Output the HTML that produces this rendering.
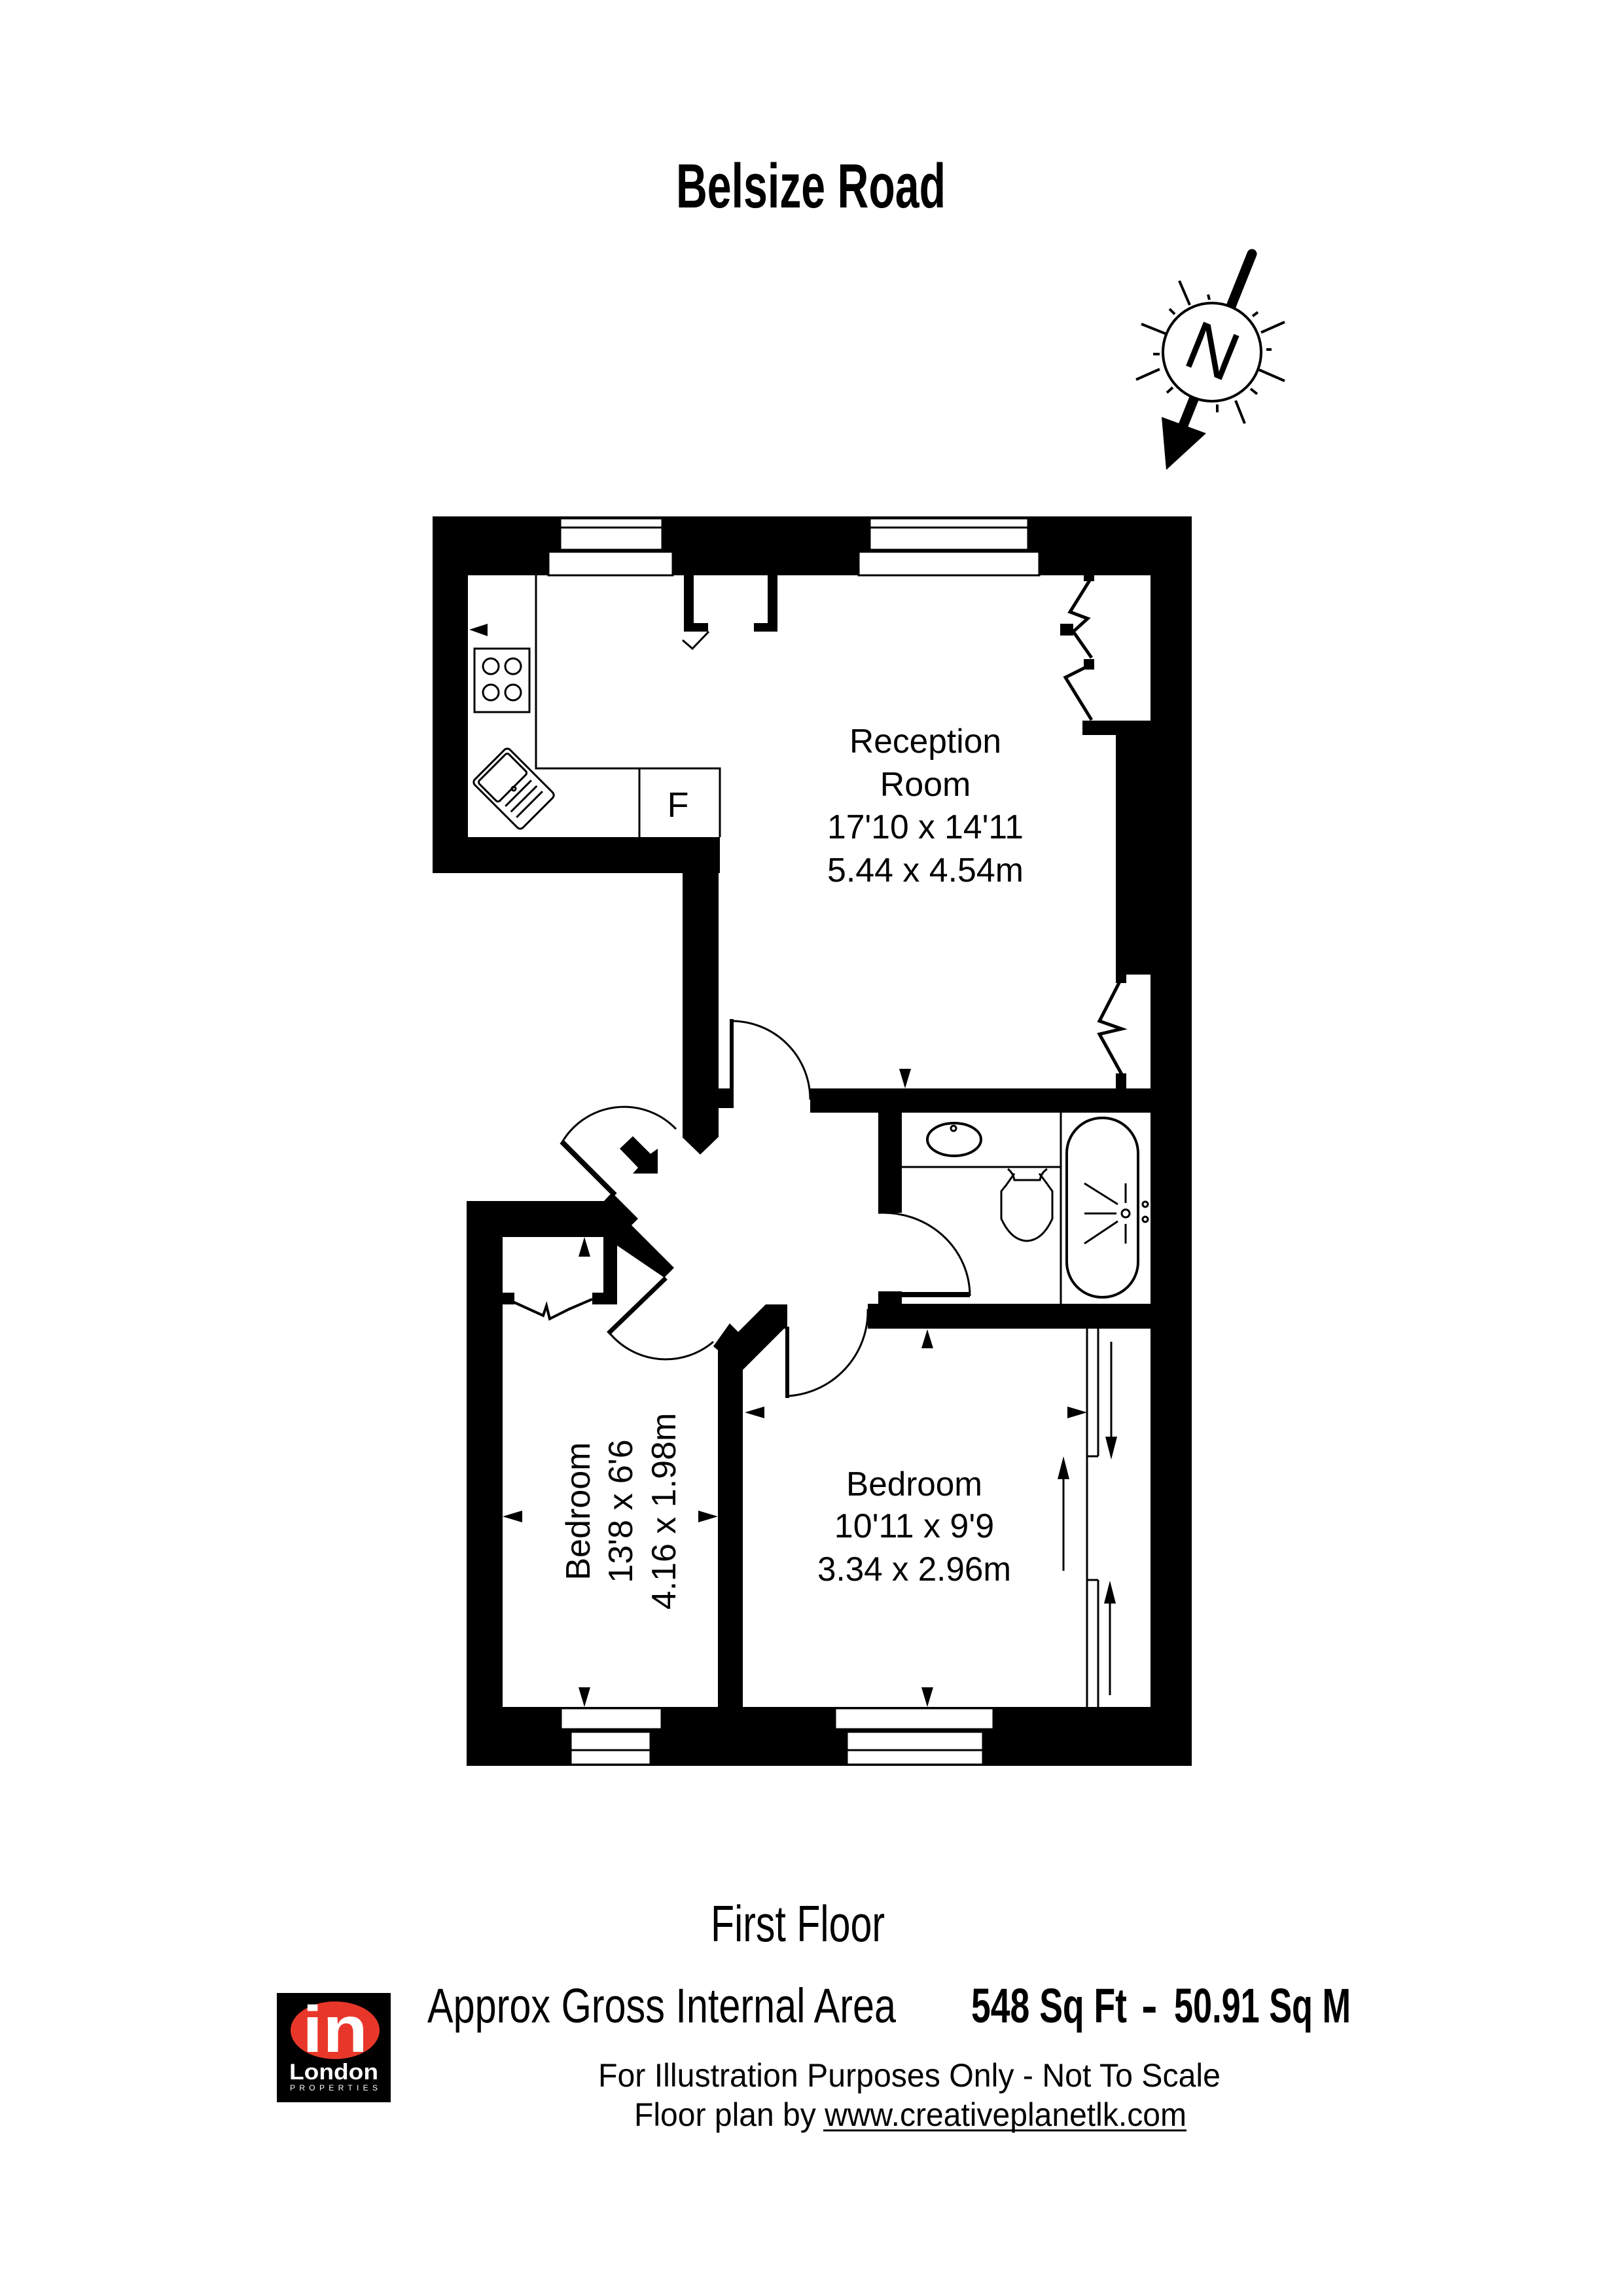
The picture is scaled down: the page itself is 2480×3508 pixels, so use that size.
<!DOCTYPE html>
<html><head><meta charset="utf-8"><style>
html,body{margin:0;padding:0;background:#fff;}
svg{display:block;}
text{font-family:"Liberation Sans",sans-serif;}
</style></head><body>
<svg width="2480" height="3508" viewBox="0 0 2480 3508" xmlns="http://www.w3.org/2000/svg">
<rect width="2480" height="3508" fill="#fff"/>

<!-- Title -->
<text x="1033" y="317" font-size="96" font-weight="bold" textLength="412" lengthAdjust="spacingAndGlyphs">Belsize Road</text>

<!-- Compass -->
<g stroke="#000" fill="none">
<g stroke-width="4">
<line x1="1802" y1="429" x2="1818" y2="466"/>
<line x1="1846" y1="450" x2="1848" y2="458"/>
<line x1="1787" y1="472" x2="1795" y2="480"/>
<line x1="1744" y1="495" x2="1784" y2="511"/>
<line x1="1762" y1="541" x2="1772" y2="541"/>
<line x1="1736" y1="580" x2="1772" y2="564"/>
<line x1="1783" y1="600" x2="1792" y2="592"/>
<line x1="1860" y1="618" x2="1860" y2="630"/>
<line x1="1888" y1="612" x2="1902" y2="647"/>
<line x1="1911" y1="594" x2="1921" y2="602"/>
<line x1="1924" y1="565" x2="1963" y2="582"/>
<line x1="1935" y1="534" x2="1943" y2="534"/>
<line x1="1927" y1="508" x2="1963" y2="492"/>
<line x1="1914" y1="483" x2="1922" y2="477"/>
</g>
</g>
<line x1="1913" y1="388" x2="1804" y2="660" stroke="#000" stroke-width="15" stroke-linecap="round"/>
<circle cx="1852" cy="538" r="75" stroke-width="4" stroke="#000" fill="#fff"/>
<polygon points="1775,637 1843,662 1782,718" fill="#000"/>
<text x="1852" y="572" font-size="105" font-family="Liberation Serif,serif" text-anchor="middle" transform="rotate(22 1852 538)">N</text>

<!-- WALLS -->
<g fill="#000">
<rect x="661" y="789" width="1160" height="90"/>
<rect x="661" y="789" width="54" height="545"/>
<rect x="661" y="1279" width="439" height="55"/>
<polygon points="1043,1279 1098,1279 1098,1737 1070,1764 1043,1738"/>
<rect x="1098" y="1663" width="20" height="30"/>
<rect x="1758" y="789" width="63" height="1909"/>
<rect x="1705" y="1123" width="60" height="366"/>
<rect x="1654" y="1101" width="104" height="22"/>
<rect x="1238" y="1663" width="527" height="37"/>
<rect x="1342" y="1698" width="36" height="155"/>
<rect x="1326" y="1992" width="439" height="38"/>
<rect x="1342" y="1973" width="36" height="20"/>
<polygon points="713,1835 923,1835 935,1822 975,1862 965,1872 1030,1937 1015,1952 943,1903 943,1993 905,1993 905,1975 922,1975 922,1890 768,1890 768,2698 713,2698"/>
<polygon points="1097,2063 1090,2057 1115,2022 1128,2035 1170,1993 1203,1993 1203,2030 1198,2030 1135,2093 1135,2608 1097,2608"/>
<rect x="713" y="2608" width="1108" height="90"/>
<rect x="1045" y="879" width="15" height="86"/>
<rect x="1045" y="952" width="37" height="13"/>
<rect x="1173" y="879" width="15" height="86"/>
<rect x="1152" y="952" width="36" height="13"/>
<polygon points="947,1755 967,1736 994,1763 1005,1755 1005,1793 967,1793 975,1784"/>
</g>

<!-- Windows -->
<g fill="#fff" stroke="#000" stroke-width="3">
<rect x="838" y="843" width="190" height="36"/>
<rect x="856" y="792" width="156" height="48"/>
<line x1="856" y1="806" x2="1012" y2="806"/>
<rect x="1312" y="843" width="276" height="36"/>
<rect x="1329" y="792" width="242" height="48"/>
<line x1="1329" y1="806" x2="1571" y2="806"/>
<rect x="857" y="2610" width="154" height="32"/>
<rect x="872" y="2646" width="122" height="50"/>
<line x1="872" y1="2674" x2="994" y2="2674"/>
<rect x="1276" y="2610" width="242" height="32"/>
<rect x="1294" y="2646" width="208" height="50"/>
<line x1="1294" y1="2674" x2="1502" y2="2674"/>
</g>

<!-- Kitchen -->
<g fill="none" stroke="#000" stroke-width="3">
<polyline points="819,879 819,1174 1100,1174 1100,1279"/>
<line x1="977" y1="1174" x2="977" y2="1279"/>
<rect x="725" y="991" width="84" height="97" stroke-width="3"/>
<circle cx="750" cy="1018" r="12"/><circle cx="784" cy="1018" r="12"/>
<circle cx="750" cy="1058" r="12"/><circle cx="784" cy="1058" r="12"/>
<g transform="translate(785,1205) rotate(45)">
<rect x="-52" y="-38" width="104" height="76" rx="6"/>
<rect x="-46" y="-32" width="44" height="64" rx="4"/>
<line x1="10" y1="-28" x2="10" y2="28"/><line x1="22" y1="-28" x2="22" y2="28"/><line x1="34" y1="-28" x2="34" y2="28"/>
<circle cx="0" cy="0" r="3"/>
</g>
<polyline points="1083,965 1058,991 1043,978"/>
</g>
<polygon points="717,962 745,953 745,972" fill="#000"/>
<text x="1036" y="1248" font-size="54" text-anchor="middle">F</text>

<!-- Reception bifolds -->
<g fill="none" stroke="#000" stroke-width="5">
<polyline points="1668,882 1635,935 1662,945 1640,965 1668,1005"/>
<polyline points="1668,1015 1628,1035 1668,1100"/>
<polyline points="1716,1490 1680,1560 1714,1572 1680,1580 1716,1645"/>
</g>
<g fill="#000">
<rect x="1656" y="878" width="16" height="10"/>
<rect x="1620" y="953" width="20" height="18"/>
<rect x="1656" y="1007" width="16" height="16"/>
<rect x="1705" y="1488" width="16" height="14"/>
<rect x="1705" y="1640" width="16" height="23"/>
</g>

<!-- Doors -->
<g fill="none" stroke="#000" stroke-width="3">
<path d="M1118,1560 A120,120 0 0 1 1238,1680"/>
<path d="M859,1745 A110,110 0 0 1 1033,1725"/>
<path d="M930,2035 A112,112 0 0 0 1090,2050"/>
<path d="M1203,2133 A130,130 0 0 0 1326,2000"/>
<path d="M1342,1853 A133,127 0 0 1 1482,1980"/>
<line x1="1360" y1="1978" x2="1482" y2="1978" stroke-width="8"/>
</g>
<g stroke="#000" stroke-linecap="square">
<line x1="1118" y1="1560" x2="1118" y2="1690" stroke-width="6"/>
<line x1="861" y1="1747" x2="937" y2="1823" stroke-width="8"/>
<line x1="1015" y1="1955" x2="932" y2="2035" stroke-width="7"/>
<line x1="1203" y1="2030" x2="1203" y2="2133" stroke-width="6"/>
</g>

<!-- Bedroom 1 closet -->
<g fill="none" stroke="#000" stroke-width="4">
<polyline points="775,1985 808,2000 830,2010 835,1995 840,2015 870,2000 905,1985"/>
</g>
<rect x="768" y="1975" width="18" height="18" fill="#000"/>

<!-- Bathroom -->
<g fill="none" stroke="#000" stroke-width="3">
<line x1="1378" y1="1783" x2="1620" y2="1783"/>
<line x1="1621" y1="1698" x2="1621" y2="1992"/>
<ellipse cx="1458" cy="1741" rx="41" ry="25" stroke-width="4"/>
<circle cx="1457" cy="1724" r="4"/>
<rect x="1630" y="1708" width="109" height="274" rx="54" stroke-width="4"/>
<path d="M1540,1786 Q1548,1792 1550,1803 L1589,1803 Q1591,1792 1600,1786" />
<path d="M1550,1793 L1538,1810 L1530,1820 L1530,1862 Q1545,1895 1569,1896 Q1593,1895 1608,1862 L1608,1820 L1598,1806 L1588,1793"/>
<line x1="1657" y1="1808" x2="1708" y2="1840"/>
<line x1="1657" y1="1854" x2="1706" y2="1854"/>
<line x1="1657" y1="1900" x2="1708" y2="1866"/>
<line x1="1720" y1="1808" x2="1720" y2="1838"/>
<line x1="1720" y1="1870" x2="1720" y2="1900"/>
<circle cx="1720" cy="1854" r="6"/>
<circle cx="1750" cy="1840" r="4"/><circle cx="1750" cy="1863" r="4"/>
</g>

<!-- Bedroom 2 wardrobe -->
<g fill="none" stroke="#000" stroke-width="3">
<line x1="1661" y1="2030" x2="1661" y2="2608"/>
<line x1="1678" y1="2030" x2="1678" y2="2225"/>
<polyline points="1678,2225 1661,2225"/>
<line x1="1678" y1="2414" x2="1678" y2="2608"/>
<polyline points="1661,2414 1678,2414"/>
<line x1="1698" y1="2050" x2="1698" y2="2200"/>
<line x1="1625" y1="2255" x2="1625" y2="2400"/>
<line x1="1696" y1="2445" x2="1696" y2="2590"/>
</g>
<g fill="#000">
<polygon points="1689,2195 1707,2195 1698,2230"/>
<polygon points="1616,2260 1634,2260 1625,2225"/>
<polygon points="1687,2450 1705,2450 1696,2415"/>
</g>

<!-- dimension arrows (tip at wall) -->
<g fill="#000">
<polygon points="1374,1633 1392,1633 1383,1663"/>
<polygon points="1408,2060 1426,2060 1417,2031"/>
<polygon points="1408,2578 1426,2578 1417,2608"/>
<polygon points="1138,2158 1168,2149 1168,2167"/>
<polygon points="1661,2158 1631,2149 1631,2167"/>
<polygon points="768,2317 798,2308 798,2326"/>
<polygon points="1097,2317 1067,2308 1067,2326"/>
<polygon points="884,2578 902,2578 893,2608"/>
<polygon points="884,1920 902,1920 893,1890"/>
</g>

<!-- Room labels -->
<g font-size="52" text-anchor="middle">
<text x="1414" y="1150" textLength="232" lengthAdjust="spacingAndGlyphs">Reception</text>
<text x="1414" y="1216">Room</text>
<text x="1414" y="1281" textLength="300" lengthAdjust="spacingAndGlyphs">17'10 x 14'11</text>
<text x="1414" y="1347" textLength="300" lengthAdjust="spacingAndGlyphs">5.44 x 4.54m</text>
<text x="1397" y="2285" textLength="208" lengthAdjust="spacingAndGlyphs">Bedroom</text>
<text x="1397" y="2349">10'11 x 9'9</text>
<text x="1397" y="2415" textLength="296" lengthAdjust="spacingAndGlyphs">3.34 x 2.96m</text>
<g transform="rotate(-90 901 2309)"><text x="901" y="2309">Bedroom</text></g>
<g transform="rotate(-90 966 2309)"><text x="966" y="2309">13'8 x 6'6</text></g>
<g transform="rotate(-90 1032 2309)"><text x="1032" y="2309">4.16 x 1.98m</text></g>
</g>

<!-- Footer -->
<text x="1086" y="2966" font-size="78" textLength="266" lengthAdjust="spacingAndGlyphs">First Floor</text>
<text x="653" y="3090" font-size="74" textLength="716" lengthAdjust="spacingAndGlyphs">Approx Gross Internal Area</text>
<text x="1484" y="3090" font-size="74" font-weight="bold" textLength="238" lengthAdjust="spacingAndGlyphs">548 Sq Ft</text>
<text x="1744" y="3090" font-size="74" font-weight="bold">-</text>
<text x="1794" y="3090" font-size="74" font-weight="bold" textLength="270" lengthAdjust="spacingAndGlyphs">50.91 Sq M</text>
<text x="914" y="3188" font-size="50" textLength="951" lengthAdjust="spacingAndGlyphs">For Illustration Purposes Only - Not To Scale</text>
<text x="969" y="3248" font-size="50" textLength="844" lengthAdjust="spacingAndGlyphs">Floor plan by www.creativeplanetlk.com</text>
<line x1="1258" y1="3255" x2="1813" y2="3255" stroke="#000" stroke-width="3"/>

<!-- Logo -->
<rect x="423" y="3045" width="174" height="167" fill="#000"/>
<ellipse cx="512" cy="3102" rx="68" ry="44" fill="#e8372a"/>
<text x="512" y="3135" font-size="100" font-weight="bold" fill="#fff" text-anchor="middle" textLength="100" lengthAdjust="spacingAndGlyphs">in</text>
<text x="510" y="3177" font-size="34" font-weight="bold" fill="#fff" text-anchor="middle" textLength="136" lengthAdjust="spacingAndGlyphs">London</text>
<text x="510" y="3194" font-size="12" fill="#fff" text-anchor="middle" textLength="134" lengthAdjust="spacing">PROPERTIES</text>
</svg>
</body></html>
